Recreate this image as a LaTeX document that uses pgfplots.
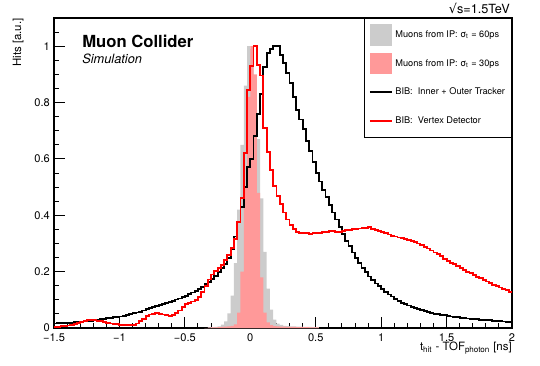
\documentclass[border=0pt]{standalone}
\usepackage{fontspec}
\setmainfont{TeX Gyre Heros}
\newfontfamily\dejavu{DejaVu Sans}
\usepackage{pgfplots}
\usepackage{pgfplotstable}
\pgfplotsset{compat=1.18}

\definecolor{rootgray}{RGB}{204,204,204}
\definecolor{rootpink}{RGB}{255,153,153}
\definecolor{rootred} {RGB}{255,0,0}

% BIB time spectra, 0.025 ns bins (left edge), last row closes the final bin
\pgfplotstableread{
x      trk    vxd
-1.500 0.016 0.004
-1.475 0.017 0.005
-1.450 0.017 0.006
-1.425 0.018 0.007
-1.400 0.018 0.009
-1.375 0.019 0.011
-1.350 0.020 0.014
-1.325 0.021 0.018
-1.300 0.022 0.022
-1.275 0.023 0.025
-1.250 0.025 0.027
-1.225 0.026 0.028
-1.200 0.028 0.027
-1.175 0.029 0.026
-1.150 0.031 0.024
-1.125 0.033 0.021
-1.100 0.035 0.018
-1.075 0.036 0.016
-1.050 0.038 0.014
-1.025 0.039 0.013
-1.000 0.041 0.012
-0.975 0.043 0.012
-0.950 0.046 0.011
-0.925 0.049 0.011
-0.900 0.052 0.012
-0.875 0.055 0.016
-0.850 0.058 0.024
-0.825 0.062 0.033
-0.800 0.066 0.042
-0.775 0.070 0.048
-0.750 0.074 0.051
-0.725 0.078 0.052
-0.700 0.082 0.051
-0.675 0.085 0.048
-0.650 0.089 0.045
-0.625 0.093 0.044
-0.600 0.097 0.046
-0.575 0.101 0.052
-0.550 0.105 0.062
-0.525 0.110 0.075
-0.500 0.115 0.085
-0.475 0.120 0.090
-0.450 0.126 0.094
-0.425 0.132 0.099
-0.400 0.139 0.110
-0.375 0.147 0.128
-0.350 0.155 0.150
-0.325 0.164 0.172
-0.300 0.173 0.190
-0.275 0.185 0.202
-0.250 0.198 0.213
-0.225 0.212 0.225
-0.200 0.228 0.240
-0.175 0.250 0.258
-0.150 0.280 0.285
-0.125 0.325 0.315
-0.100 0.375 0.375
-0.075 0.430 0.460
-0.050 0.500 0.620
-0.025 0.570 0.846
0.000  0.600 0.930
0.025  0.680 1.000
0.050  0.760 0.934
0.075  0.830 0.896
0.100  0.925 0.710
0.125  0.975 0.625
0.150  0.990 0.560
0.175  1.000 0.505
0.200  1.000 0.470
0.225  0.970 0.440
0.250  0.940 0.410
0.275  0.905 0.385
0.300  0.870 0.365
0.325  0.820 0.350
0.350  0.775 0.342
0.375  0.740 0.338
0.400  0.705 0.336
0.425  0.665 0.336
0.450  0.628 0.335
0.475  0.588 0.336
0.500  0.550 0.337
0.525  0.520 0.338
0.550  0.490 0.340
0.575  0.465 0.342
0.600  0.437 0.344
0.625  0.410 0.343
0.650  0.385 0.341
0.675  0.358 0.342
0.700  0.333 0.345
0.725  0.310 0.347
0.750  0.290 0.348
0.775  0.268 0.350
0.800  0.248 0.352
0.825  0.230 0.353
0.850  0.213 0.354
0.875  0.198 0.356
0.900  0.183 0.358
0.925  0.170 0.352
0.950  0.158 0.348
0.975  0.148 0.344
1.000  0.138 0.340
1.025  0.128 0.336
1.050  0.119 0.332
1.075  0.112 0.328
1.100  0.104 0.325
1.125  0.097 0.321
1.150  0.090 0.318
1.175  0.085 0.315
1.200  0.080 0.313
1.225  0.075 0.309
1.250  0.070 0.305
1.275  0.066 0.300
1.300  0.063 0.295
1.325  0.060 0.288
1.350  0.057 0.282
1.375  0.054 0.275
1.400  0.051 0.268
1.425  0.049 0.262
1.450  0.047 0.256
1.475  0.045 0.245
1.500  0.043 0.238
1.525  0.041 0.232
1.550  0.039 0.226
1.575  0.038 0.220
1.600  0.036 0.213
1.625  0.035 0.206
1.650  0.034 0.200
1.675  0.033 0.194
1.700  0.032 0.188
1.725  0.031 0.182
1.750  0.030 0.176
1.775  0.029 0.170
1.800  0.028 0.165
1.825  0.027 0.160
1.850  0.026 0.154
1.875  0.025 0.149
1.900  0.024 0.144
1.925  0.023 0.139
1.950  0.022 0.134
1.975  0.021 0.128
2.000  0.021 0.128
}\bib

% muons from the IP, two time resolutions
\pgfplotstableread{
x      s60   s30
-0.350 0.000 0.000
-0.325 0.002 0.001
-0.300 0.003 0.002
-0.275 0.004 0.002
-0.250 0.006 0.003
-0.225 0.012 0.004
-0.200 0.024 0.005
-0.175 0.052 0.006
-0.150 0.115 0.008
-0.125 0.230 0.013
-0.100 0.420 0.055
-0.075 0.650 0.200
-0.050 0.860 0.500
-0.025 1.000 0.820
0.000  0.990 1.000
0.025  0.870 0.900
0.050  0.670 0.480
0.075  0.460 0.180
0.100  0.270 0.055
0.125  0.140 0.020
0.150  0.065 0.010
0.175  0.030 0.007
0.200  0.016 0.006
0.225  0.011 0.005
0.250  0.008 0.005
0.275  0.007 0.004
0.300  0.006 0.004
0.325  0.006 0.004
0.350  0.005 0.003
0.375  0.005 0.003
0.400  0.004 0.003
0.425  0.004 0.003
0.450  0.004 0.002
0.475  0.003 0.002
0.500  0.003 0.002
0.525  0.000 0.000
}\muons

\begin{document}
\begin{tikzpicture}
\begin{axis}[
  width=343.5pt, height=232.5pt, scale only axis,
  xmin=-1.5, xmax=2, ymin=0, ymax=1.1,
  clip mode=individual,
  axis line style={line width=0.8pt},
  tick pos=left, tick align=inside,
  xtick={-1.5,-1,-0.5,0,0.5,1,1.5,2},
  xticklabels={−1.5,−1,−0.5,0,0.5,1,1.5,2},
  minor xtick={-1.4,-1.3,-1.2,-1.1,-0.9,-0.8,-0.7,-0.6,-0.4,-0.3,-0.2,-0.1,
               0.1,0.2,0.3,0.4,0.6,0.7,0.8,0.9,1.1,1.2,1.3,1.4,1.6,1.7,1.8,1.9},
  ytick={0,0.2,0.4,0.6,0.8,1},
  yticklabels={0,0.2,0.4,0.6,0.8,1},
  minor ytick={0.05,0.1,0.15,0.25,0.3,0.35,0.45,0.5,0.55,0.65,0.7,0.75,
               0.85,0.9,0.95,1.05},
  major tick length=8pt, minor tick length=4pt,
  every tick/.style={black, line width=0.7pt},
  ticklabel style={font=\fontsize{8.3}{9}\selectfont, inner sep=0pt},
  xticklabel style={yshift=-4pt},
  yticklabel style={xshift=-3pt},
  xlabel={t\textsubscript{hit} - TOF\textsubscript{photon} [ns]},
  xlabel style={at={(rel axis cs:1,-0.045)}, anchor=north east,
                inner sep=0pt, font=\fontsize{8.6}{10}\selectfont},
  ylabel={Hits [a.u.]},
  ylabel style={at={(rel axis cs:-0.066,1)}, anchor=south east,
                inner sep=0pt, font=\fontsize{8.6}{10}\selectfont},
  legend cell align=left,
  legend style={at={(rel axis cs:1,1)}, anchor=north east,
    draw=black, line width=0.6pt, fill=white,
    font=\fontsize{6.9}{8}\selectfont,
    inner xsep=3pt, inner ysep=4.5pt, row sep=5.5pt,
    /tikz/every even column/.append style={column sep=3pt}},
]
\addplot[const plot, fill=rootgray, draw=none,
  legend image code/.code={\fill[rootgray] (0pt,-8pt) rectangle (16.5pt,8pt);}]
  table[x=x, y=s60] {\muons} \closedcycle;
\addlegendentry{Muons from IP: σ\textsubscript{t} = 60ps}

\addplot[const plot, fill=rootpink, draw=none,
  legend image code/.code={\fill[rootpink] (0pt,-8pt) rectangle (16.5pt,8pt);}]
  table[x=x, y=s30] {\muons} \closedcycle;
\addlegendentry{Muons from IP: σ\textsubscript{t} = 30ps}

\addplot[const plot, black, line width=1.4pt,
  legend image code/.code={\path[draw=none, fill=none] (0pt,-8pt) rectangle (16.5pt,8pt);
    \draw[black, line width=1.4pt] (0pt,0pt) -- (16.5pt,0pt);}]
  table[x=x, y=trk] {\bib};
\addlegendentry{BIB:\ \ Inner + Outer Tracker}

\addplot[const plot, rootred, line width=1.4pt,
  legend image code/.code={\path[draw=none, fill=none] (0pt,-8pt) rectangle (16.5pt,8pt);
    \draw[rootred, line width=1.4pt] (0pt,0pt) -- (16.5pt,0pt);}]
  table[x=x, y=vxd] {\bib};
\addlegendentry{BIB:\ \ Vertex Detector}

\node[anchor=base west, inner sep=0pt, font=\fontsize{12.5}{14}\selectfont\bfseries]
  at (rel axis cs:0.0611,0.904) {Muon Collider};
\node[anchor=base west, inner sep=0pt, font=\fontsize{9.6}{11}\selectfont\itshape]
  at (rel axis cs:0.0611,0.854) {Simulation};
\node[anchor=base east, inner sep=0pt, font=\fontsize{9.5}{11}\selectfont]
  at (rel axis cs:0.9956,1.013) {{\dejavu √}s=1.5TeV};

\coordinate (bbll) at (rel axis cs:-0.1179,-0.1194);
\coordinate (bbur) at (rel axis cs:1.0611,1.0581);
\end{axis}
\pgfresetboundingbox
\useasboundingbox (bbll) rectangle (bbur);
\end{tikzpicture}
\end{document}
